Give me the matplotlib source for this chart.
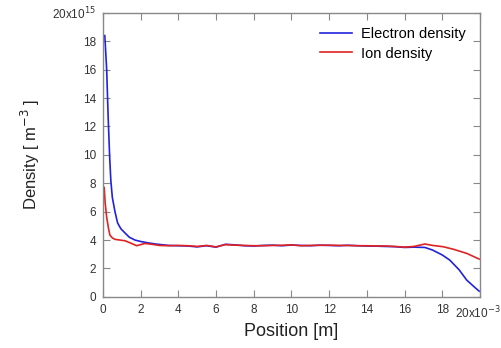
import matplotlib.pyplot as plt

plt.rcParams['font.family'] = ['Liberation Sans', 'DejaVu Sans']

# position in units of 1e-3 m, density in units of 1e15 m^-3
elec_x = [0.1, 0.2, 0.28, 0.36, 0.42, 0.5, 0.64, 0.78, 0.95, 1.17, 1.4,
          1.7, 2.0, 2.4, 2.8, 3.2,
          3.5, 4.0, 4.5, 5.0, 5.5, 6.0, 6.5, 7.0, 7.5, 8.0, 8.5, 9.0, 9.5,
          10.0, 10.5, 11.0, 11.5, 12.0, 12.5, 13.0, 13.5, 14.0, 14.5, 15.0,
          15.5, 16.0, 16.5, 17.08, 17.5, 18.0, 18.4, 18.9, 19.3, 19.7, 19.96]
elec_y = [18.4, 16.0, 12.6, 9.8, 8.2, 7.0, 6.0, 5.2, 4.8, 4.5, 4.2,
          4.0, 3.9, 3.8, 3.72, 3.66,
          3.62, 3.6, 3.58, 3.52, 3.6, 3.5, 3.7, 3.66, 3.6, 3.58, 3.62, 3.64,
          3.6, 3.65, 3.62, 3.6, 3.64, 3.62, 3.6, 3.63, 3.6, 3.58, 3.57, 3.55,
          3.53, 3.48, 3.5, 3.48, 3.29, 2.95, 2.59, 1.9, 1.18, 0.7, 0.40]

ion_x = [0.07, 0.12, 0.2, 0.3, 0.37, 0.5, 0.64, 0.9, 1.17, 1.45, 1.79, 2.0,
         2.23, 2.6, 3.0,
         3.5, 4.0, 4.5, 5.0, 5.5, 6.0, 6.5, 7.0, 7.5, 8.0, 8.5, 9.0, 9.5,
         10.0, 10.5, 11.0, 11.5, 12.0, 12.5, 13.0, 13.5, 14.0, 14.5, 15.0,
         15.5, 16.0, 16.5, 17.08, 17.5, 18.05, 18.6, 19.3, 19.96]
ion_y = [7.7, 6.6, 5.6, 4.8, 4.35, 4.15, 4.05, 4.0, 3.95, 3.8, 3.6, 3.68,
         3.76, 3.7, 3.62,
         3.6, 3.62, 3.6, 3.55, 3.62, 3.52, 3.68, 3.64, 3.62, 3.6, 3.6, 3.62,
         3.63, 3.66, 3.6, 3.62, 3.63, 3.64, 3.62, 3.62, 3.6, 3.6, 3.58, 3.58,
         3.55, 3.5, 3.55, 3.72, 3.62, 3.53, 3.35, 3.06, 2.66]

x_ticks = [0, 2, 4, 6, 8, 10, 12, 14, 16, 18, 20]
y_ticks = [0, 2, 4, 6, 8, 10, 12, 14, 16, 18, 20]

frame = '#888888'
label_col = '#333333'

fig = plt.figure(figsize=(5.02, 3.48), dpi=100)
ax = fig.add_axes([0.205, 0.147, 0.751, 0.816])

ax.plot(elec_x, elec_y, color='#2222dd', lw=1.2, label='Electron density')
ax.plot(ion_x, ion_y, color='#e02222', lw=1.2, label='Ion density')

ax.set_xlim(0, 20)
ax.set_ylim(0, 20)
ax.set_xticks(x_ticks)
ax.set_yticks(y_ticks)
ax.set_xticklabels([str(v) for v in x_ticks[:-1]] + [''])
ax.set_yticklabels([str(v) for v in y_ticks[:-1]] + ['20x10$^{15}$'])
fig.text(0.998, 0.10, '20x10$^{-3}$', ha='right', va='center', fontsize=8.5,
         color=label_col)

ax.tick_params(direction='in', length=5, width=0.8, color=frame,
               labelsize=8.5, labelcolor=label_col, top=True, right=True,
               pad=5)
for s in ax.spines.values():
    s.set_color(frame)
    s.set_linewidth(1.0)

ax.set_xlabel('Position [m]', fontsize=13, color='#222222', labelpad=5)
ax.set_ylabel('Density [ m$^{-3}$ ]', fontsize=12, color='#222222',
              labelpad=7)

ax.legend(loc='upper right', frameon=False, fontsize=10.5, handlelength=2.2,
          borderaxespad=0.6, labelspacing=0.35, handletextpad=0.6)

fig.savefig('out.png', dpi=100)
